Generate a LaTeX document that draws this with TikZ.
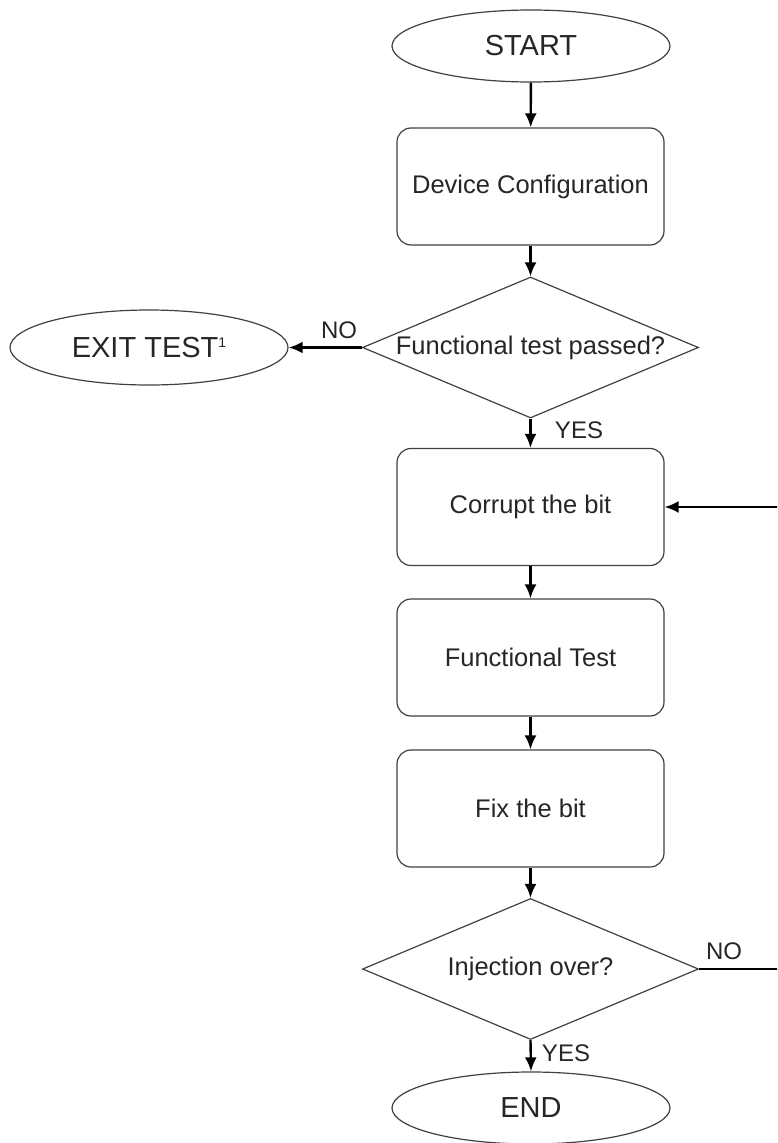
\documentclass[tikz,border=0pt]{standalone}
\usepackage{fontspec}
\setmainfont{Liberation Sans}
\usetikzlibrary{shapes.geometric,arrows.meta}
\begin{document}
\begin{tikzpicture}[x=1pt,y=-1pt,
  term/.style={draw=black!75, line width=1.2pt, ellipse, minimum width=278pt, minimum height=72pt, inner sep=0pt, text=black!85, font=\fontsize{29}{32}\selectfont},
  proc/.style={draw=black!75, line width=1.2pt, rectangle, rounded corners=14pt, minimum width=267pt, minimum height=117pt, inner sep=0pt, text=black!85, font=\fontsize{25.5}{30}\selectfont},
  decision/.style={draw=black!75, line width=1.2pt, diamond, minimum width=336pt, minimum height=141pt, inner sep=0pt},
  dtext/.style={font=\fontsize{25.5}{30}\selectfont, inner sep=0pt, text=black!85},
  lbl/.style={font=\fontsize{24}{28}\selectfont, inner sep=0pt, text=black!85},
  flow/.style={draw=black, line width=2.4pt, -{Latex[length=14pt,width=12pt]}},
]
\useasboundingbox (0,0) rectangle (777,1143);
\clip (0,0) rectangle (777,1143);

\node[term] (start) at (531,46) {START};
\node[proc] (conf) at (530.5,186.5) {Device Configuration};
\node[decision] (d1) at (530.5,347.5) {};
\node[dtext] (d1t) at (d1.center) {Functional test passed?};
\node[term, minimum height=75pt] (exit) at (149,347.5) {EXIT TEST\raisebox{10pt}{\fontsize{14}{14}\selectfont 1}};
\node[proc] (corrupt) at (530.5,507) {Corrupt the bit};
\node[proc] (ftest) at (530.5,657.5) {Functional Test};
\node[proc] (fix) at (530.5,808.5) {Fix the bit};
\node[decision] (d2) at (530.5,969) {};
\node[dtext] (d2t) at (d2.center) {Injection over?};
\node[term] (end) at (531,1108) {END};

\coordinate (r1) at (790,969);
\coordinate (r2) at (790,507);

\draw[flow] (start) -- (conf);
\draw[flow] (conf) -- (d1);
\draw[flow, line width=3.6pt] (d1.west) -- (exit.east);
\draw[flow] (d1.south) -- (corrupt.north);
\draw[flow] (corrupt) -- (ftest);
\draw[flow] (ftest) -- (fix);
\draw[flow] (fix) -- (d2);
\draw[flow] (d2.south) -- (end.north);
\draw[flow] (d2.east) -- (r1) -- (r2) -- (corrupt.east);

\node[lbl] (no1) at (339,330) {NO};
\node[lbl] (yes1) at (579,430) {YES};
\node[lbl] (no2) at (724,951) {NO};
\node[lbl] (yes2) at (566,1053) {YES};
\end{tikzpicture}
\end{document}
